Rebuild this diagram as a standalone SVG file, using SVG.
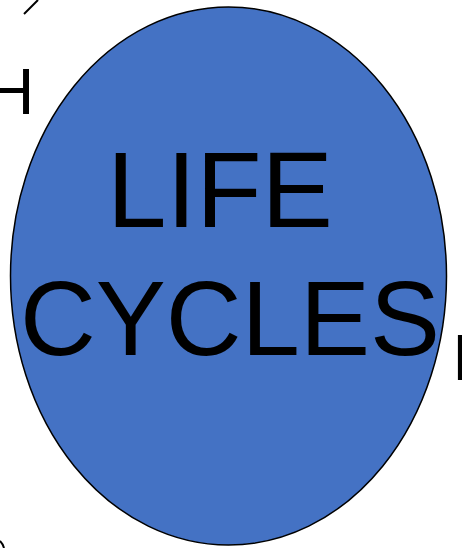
<svg xmlns="http://www.w3.org/2000/svg" width="462" height="548" viewBox="0 0 462 548">
<style>
.lbl{font-family:"Liberation Sans",Arial,sans-serif;fill:#000}
.frag{font-family:"Liberation Sans",Arial,sans-serif;fill:#000;font-size:64px}
</style>
<rect width="462" height="548" fill="#fff"/>
<g id="connectors">
<line x1="24" y1="14" x2="38" y2="0" stroke="#000" stroke-width="2"/>
<path d="M0,541 Q3,544 4,548" fill="none" stroke="#000" stroke-width="2"/>
</g>
<g id="frag-left"><text class="frag" x="-12" y="114">H</text></g>
<g id="frag-right"><text class="frag" x="452" y="380">I</text></g>
<g id="life-cycles">
<ellipse cx="228.5" cy="276" rx="218" ry="269" fill="#4472C4" stroke="#000" stroke-width="1.5"/>
<text class="lbl" x="220" y="227" font-size="107" text-anchor="middle">LIFE</text>
<text class="lbl" x="230" y="355" font-size="105" text-anchor="middle">CYCLES</text>
</g>
</svg>
